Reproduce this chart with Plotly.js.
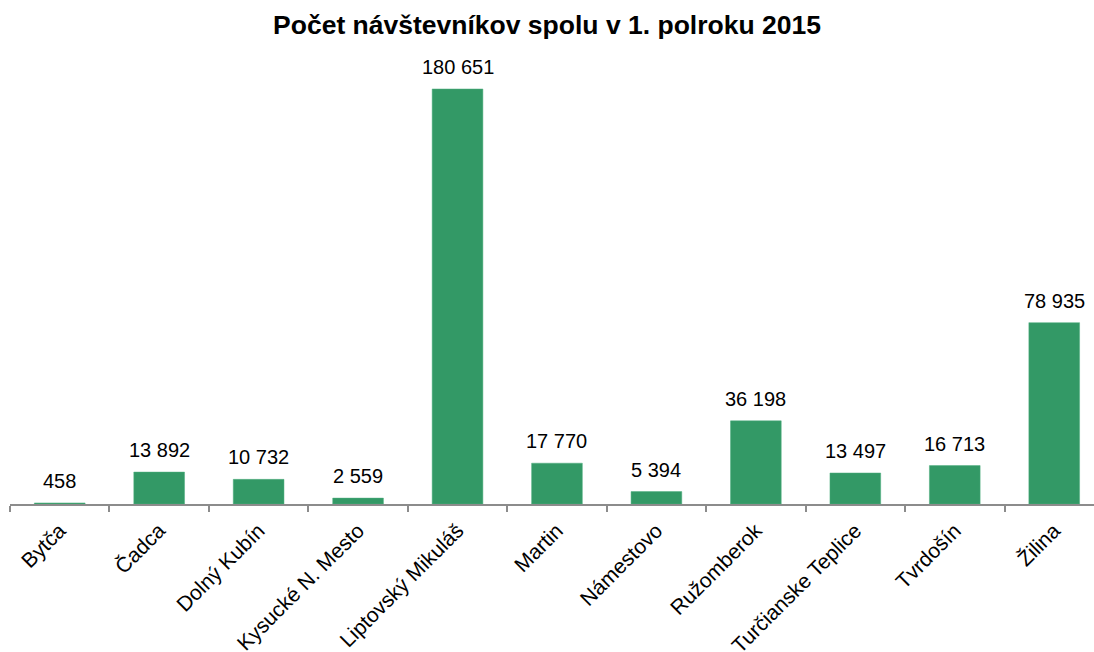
<!DOCTYPE html>
<html>
<head>
<meta charset="utf-8">
<script src="https://cdn.plot.ly/plotly-3.0.1.min.js"></script>
<style>html,body{margin:0;padding:0;background:#fff;}#chart{width:1094px;height:652px;}</style>
</head>
<body>
<div id="chart"></div>
<script>
const categories = ["Bytča","Čadca","Dolný Kubín","Kysucké N. Mesto","Liptovský Mikuláš","Martin","Námestovo","Ružomberok","Turčianske Teplice","Tvrdošín","Žilina"];
const visitors = [458, 13892, 10732, 2559, 180651, 17770, 5394, 36198, 13497, 16713, 78935];
const chartTitle = "Počet návštevníkov spolu v 1. polroku 2015";

function fmt(v){ return String(v).replace(/\B(?=(\d{3})+(?!\d))/g, " "); }

const font = "Liberation Sans, Arial, sans-serif";

const trace = {
  type: "bar",
  x: categories,
  y: visitors,
  marker: {color: "#339966", line: {color: "#4fae7e", width: 0.5}},
  width: 0.51,
  hoverinfo: "none"
};

const annotations = categories.map((c, i) => ({
  x: c, y: visitors[i], xref: "x", yref: "y",
  text: fmt(visitors[i]),
  showarrow: false, yanchor: "bottom", yshift: 9,
  font: {family: font, size: 20, color: "#000"}
}));

const layout = {
  width: 1094, height: 652,
  margin: {l: 10, r: 0, t: 45, b: 148},
  paper_bgcolor: "#fff", plot_bgcolor: "#fff",
  showlegend: false,
  title: {text: "<b>" + chartTitle + "</b>", x: 0.5, xref: "container", y: 0.962, yref: "container", yanchor: "middle",
          font: {family: font, size: 26.5, color: "#000"}},
  xaxis: {
    type: "category",
    range: [-0.5, 10.4],
    showline: true, linecolor: "#8c8c8c", linewidth: 2,
    ticks: "outside", tickson: "boundaries", ticklen: 6, tickcolor: "#8c8c8c", tickwidth: 2,
    tickangle: -45, ticklabelstandoff: 4,
    tickfont: {family: font, size: 21, color: "#000"},
    showgrid: false, zeroline: false, fixedrange: true
  },
  yaxis: {
    range: [0, 199800],
    visible: false, showgrid: false, zeroline: false, fixedrange: true
  },
  annotations: annotations
};

Plotly.newPlot("chart", [trace], layout, {staticPlot: true, displayModeBar: false});
</script>
</body>
</html>
